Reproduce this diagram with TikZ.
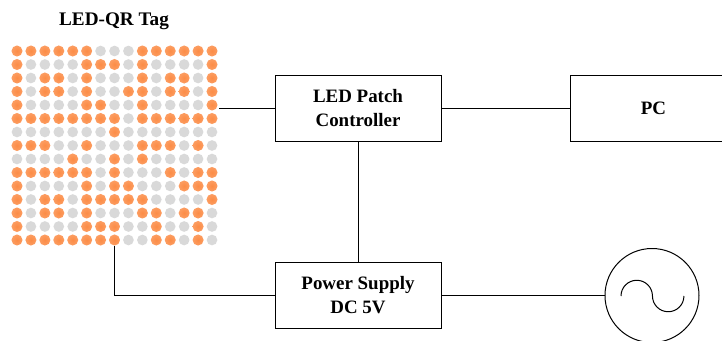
\documentclass[tikz,border=0pt]{standalone}
\usepackage{fontspec}
\setmainfont{Liberation Serif}
\definecolor{ledon}{RGB}{252,140,70}
\definecolor{ledoff}{RGB}{217,217,217}
\tikzset{
  dot0/.style={circle,fill=ledoff,inner sep=0pt,minimum size=8pt},
  dot1/.style={circle,inner sep=0pt,minimum size=8.3pt,inner color=ledon,outer color=ledon!85!white},
  block/.style={draw,line width=.75pt,align=center,font=\fontsize{14.2}{18}\selectfont\bfseries,minimum width=124.5pt,minimum height=49.5pt},
  wire/.style={line width=.75pt}
}
\begin{document}
\begin{tikzpicture}[x=.75pt,y=-.75pt]
      \useasboundingbox (0,0) rectangle (722,340);
      \node[font=\fontsize{14.4}{16}\selectfont\bfseries] (title) at (114,21) {LED-QR Tag};
      \foreach \row [count=\r] in {
        {1,1,1,1,1,1,0,0,0,1,1,1,1,1,1},
        {1,0,0,0,0,1,1,1,0,1,0,0,0,0,1},
        {1,0,1,1,0,1,0,0,0,1,0,1,1,0,1},
        {1,0,1,1,0,1,0,0,1,1,0,1,1,0,1},
        {1,0,0,0,0,1,1,0,0,1,0,0,0,0,1},
        {1,1,1,1,1,1,1,1,0,1,1,1,1,1,1},
        {0,0,0,0,0,0,0,1,0,0,0,0,0,0,0},
        {1,1,1,0,0,1,0,0,0,1,1,1,0,1,0},
        {0,0,0,0,1,0,0,1,0,1,0,0,0,0,0},
        {1,1,1,1,1,1,0,1,0,0,0,1,0,1,1},
        {1,0,0,0,0,1,0,1,1,0,0,0,1,1,1},
        {1,0,1,1,0,1,1,1,1,1,0,0,0,0,1},
        {1,0,1,1,0,1,0,0,0,1,1,0,1,1,0},
        {1,0,0,0,0,1,1,1,0,0,1,0,0,1,0},
        {1,1,1,1,1,1,1,1,0,0,1,1,0,1,0}}
        \foreach \v [count=\c] in \row
          \node[dot\v] (d-\r-\c) at ({17+13.93*(\c-1)},{51+13.5*(\r-1)}) {};
      \node[block] (ctrl) at (358,108) {LED Patch\\Controller};
      \node[block] (power) at (358,295.5) {Power Supply\\DC 5V};
      \node[block] (pc) at (653.5,108) {PC};
      \node[draw,circle,line width=.75pt,inner sep=0pt,minimum size=70.5pt] (source) at (652,295.5) {};
      \coordinate (tagout) at (219,108);
      \coordinate (sinel) at (621,296);
      \begin{scope}[wire]
        \draw (tagout) -- (ctrl);
        \draw (ctrl) -- (pc);
        \draw (ctrl) -- (power);
        \draw (d-15-8) |- (power);
        \draw (power) -- (source);
        \draw (sinel) arc (180:0:11.8pt) arc (180:360:11.8pt);
      \end{scope}
    \end{tikzpicture}
\end{document}
